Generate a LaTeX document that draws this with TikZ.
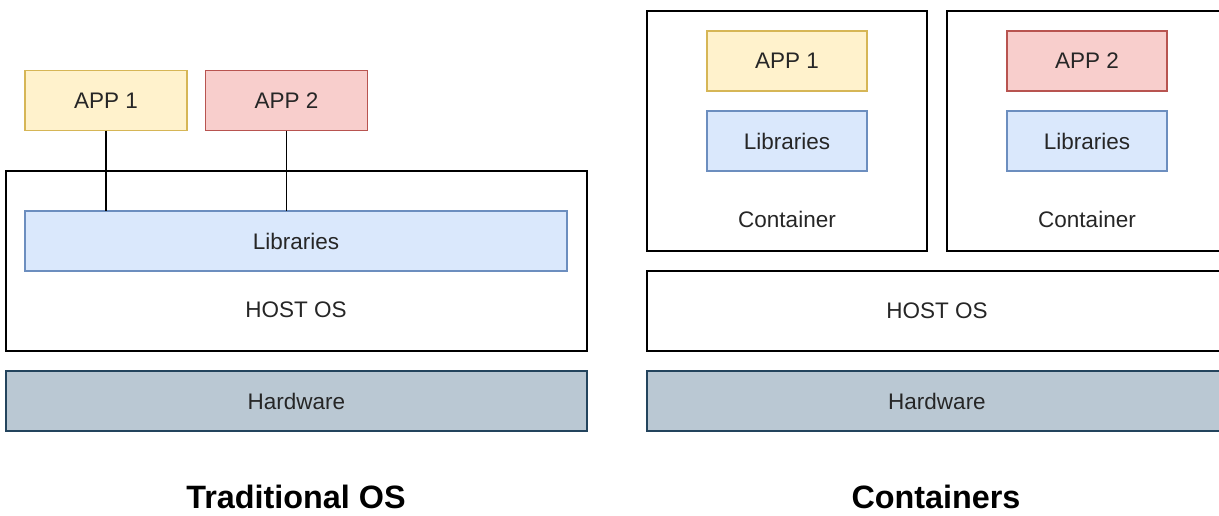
\documentclass[tikz,border=0pt]{standalone}
\usepackage{fontspec}
\setmainfont{Liberation Sans}
\usetikzlibrary{positioning}
\definecolor{appafill}{HTML}{FFF2CC}
\definecolor{appadraw}{HTML}{D6B656}
\definecolor{appbfill}{HTML}{F8CECC}
\definecolor{appbdraw}{HTML}{B85450}
\definecolor{libfill}{HTML}{DAE8FC}
\definecolor{libdraw}{HTML}{6C8EBF}
\definecolor{hwfill}{HTML}{BAC8D3}
\definecolor{hwdraw}{HTML}{23445D}
\tikzset
{
    layer/.style   = {rectangle, draw=black, fill=white, line width=1pt, inner sep=0pt, outer sep=0pt, text=black!85, font=\fontsize{16}{19}\selectfont},
    appone/.style  = {layer, draw=appadraw, fill=appafill, minimum width=4cm, minimum height=1.5cm},
    apptwo/.style  = {layer, draw=appbdraw, fill=appbfill, minimum width=4cm, minimum height=1.5cm},
    libbox/.style  = {layer, draw=libdraw, fill=libfill, minimum height=1.5cm},
    hwbox/.style   = {layer, draw=hwdraw, fill=hwfill, minimum width=14.5cm, minimum height=1.5cm},
    caption/.style = {text=black!85, font=\fontsize{16}{19}\selectfont},
    heading/.style = {text=black, font=\fontsize{23}{28}\selectfont\bfseries}
}

\begin{document}
\begin{tikzpicture}[x=0.025cm, y=-0.025cm]
\useasboundingbox (0,0) rectangle (1219,515);
\clip (0,0) rectangle (1219,515);

% traditional OS
\node (hostL)[layer, minimum width=14.525cm, minimum height=4.5cm] at (296.5,261)   {};
\node (libL)[libbox, minimum width=13.55cm]                         at (296,241)     {Libraries};
\node (hostLtxt)[caption]                                           at (296,310)     {HOST OS};
\node (hwL)[hwbox, minimum width=14.525cm]                          at (296.5,401)   {Hardware};
\node (app1L)[appone, minimum width=4.05cm]                         at (106,100.5)   {APP 1};
\node (app2L)[apptwo, minimum width=4.05cm]                         at (286.5,100.5) {APP 2};

\draw[line width=1pt] (app1L.south) -- (app1L.south |- libL.north);
\draw[line width=1pt] (app2L.south) -- (app2L.south |- libL.north);

\node (titleL)[heading] at (296,497) {Traditional OS};

% containers
\node (boxA)[layer, minimum width=7cm, minimum height=6cm] at (787,131)  {};
\node (boxB)[layer, minimum width=7cm, minimum height=6cm] at (1087,131) {};
\node (app1R)[appone]                 at (787,61)   {APP 1};
\node (lib1R)[libbox, minimum width=4cm] at (787,141)  {Libraries};
\node (boxAtxt)[caption]              at (787,219)  {Container};
\node (app2R)[apptwo]                 at (1087,61)  {APP 2};
\node (lib2R)[libbox, minimum width=4cm] at (1087,141) {Libraries};
\node (boxBtxt)[caption]              at (1087,219) {Container};

\node (hostR)[layer, minimum width=14.5cm, minimum height=2cm] at (937,311) {HOST OS};
\node (hwR)[hwbox]                                             at (937,401) {Hardware};

\node (titleR)[heading] at (936,497) {Containers};

\end{tikzpicture}
\end{document}
